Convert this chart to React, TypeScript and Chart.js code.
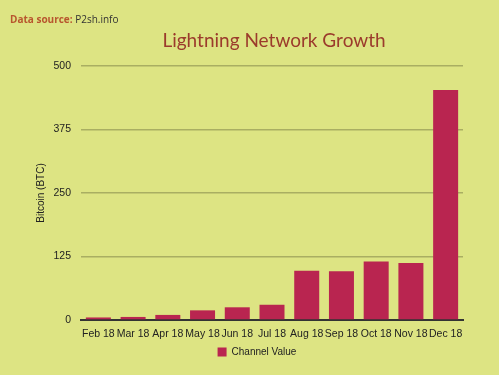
import React, { useEffect, useRef } from "react";
import { Chart, registerables } from "chart.js";

Chart.register(...registerables);

const categories = ["Feb 18", "Mar 18", "Apr 18", "May 18", "Jun 18", "Jul 18", "Aug 18", "Sep 18", "Oct 18", "Nov 18", "Dec 18"];
const channelValue = [5, 6, 10, 19, 25, 30, 97, 96, 115, 112, 453];
const yTicks = [0, 125, 250, 375, 500];

const BG = "#dde483";
const BAR = "#b92550";

const textPlugin = {
  id: "textPlugin",
  afterDraw(chart: any) {
    const ctx = chart.ctx;
    const area = chart.chartArea;
    ctx.save();
    ctx.textBaseline = "alphabetic";
    ctx.textAlign = "left";
    ctx.font = "bold 10px 'Open Sans'";
    ctx.fillStyle = "#b8562e";
    const lbl = "Data source: ";
    ctx.fillText(lbl, 10, 23);
    const w = ctx.measureText(lbl).width;
    ctx.font = "10px 'Open Sans'";
    ctx.fillStyle = "#333333";
    ctx.fillText("P2sh.info", 10 + w, 23);
    ctx.font = "19px Lato";
    ctx.fillStyle = "#9b3b2c";
    ctx.textAlign = "center";
    ctx.fillText("Lightning Network Growth", (area.left + area.right) / 2 + 2, 47);
    // y axis title
    ctx.translate(41, (area.top + area.bottom) / 2);
    ctx.rotate(-Math.PI / 2);
    ctx.font = "10px 'Liberation Sans'";
    ctx.fillStyle = "#222";
    ctx.textBaseline = "middle";
    ctx.fillText("Bitcoin (BTC)", 0, 0);
    ctx.restore();
  },
};

export default function App() {
  const ref = useRef<HTMLCanvasElement>(null);
  useEffect(() => {
    document.body.style.margin = "0";
    const chart = new Chart(ref.current!, {
      type: "bar",
      data: {
        labels: categories,
        datasets: [
          {
            label: "Channel Value",
            data: channelValue,
            backgroundColor: BAR,
            categoryPercentage: 0.72,
            barPercentage: 1,
          },
        ],
      },
      options: {
        animation: false,
        responsive: false,
        layout: { padding: { top: 66, left: 51, right: 36, bottom: 8 } },
        plugins: {
          legend: {
            position: "bottom",
            labels: {
              boxWidth: 9,
              boxHeight: 9,
              color: "#222",
              font: { family: "'Liberation Sans'", size: 10 },
              padding: 8,
            },
          },
          tooltip: { enabled: false },
        },
        scales: {
          x: {
            grid: { display: false },
            border: { color: "#333", width: 2 },
            afterFit: (s: any) => {
              s.height = 19;
            },
            ticks: {
              color: "#222",
              font: { family: "'Liberation Sans'", size: 10.5 },
              maxRotation: 0,
              autoSkip: false,
              padding: 0,
            },
          },
          y: {
            min: 0,
            max: 500,
            afterBuildTicks: (s: any) => {
              s.ticks = yTicks.map((v) => ({ value: v }));
            },
            afterFit: (s: any) => {
              s.width = 30;
            },
            grid: { color: "#a9ae62", lineWidth: 1.5, drawTicks: false },
            border: { display: false },
            ticks: {
              color: "#222",
              font: { family: "'Liberation Sans'", size: 10.5 },
              padding: 10,
            },
          },
        },
      },
      plugins: [textPlugin],
    });
    return () => chart.destroy();
  }, []);
  return (
    <div style={{ width: 499, height: 375, background: BG }}>
      <canvas ref={ref} width={499} height={375} />
    </div>
  );
}
